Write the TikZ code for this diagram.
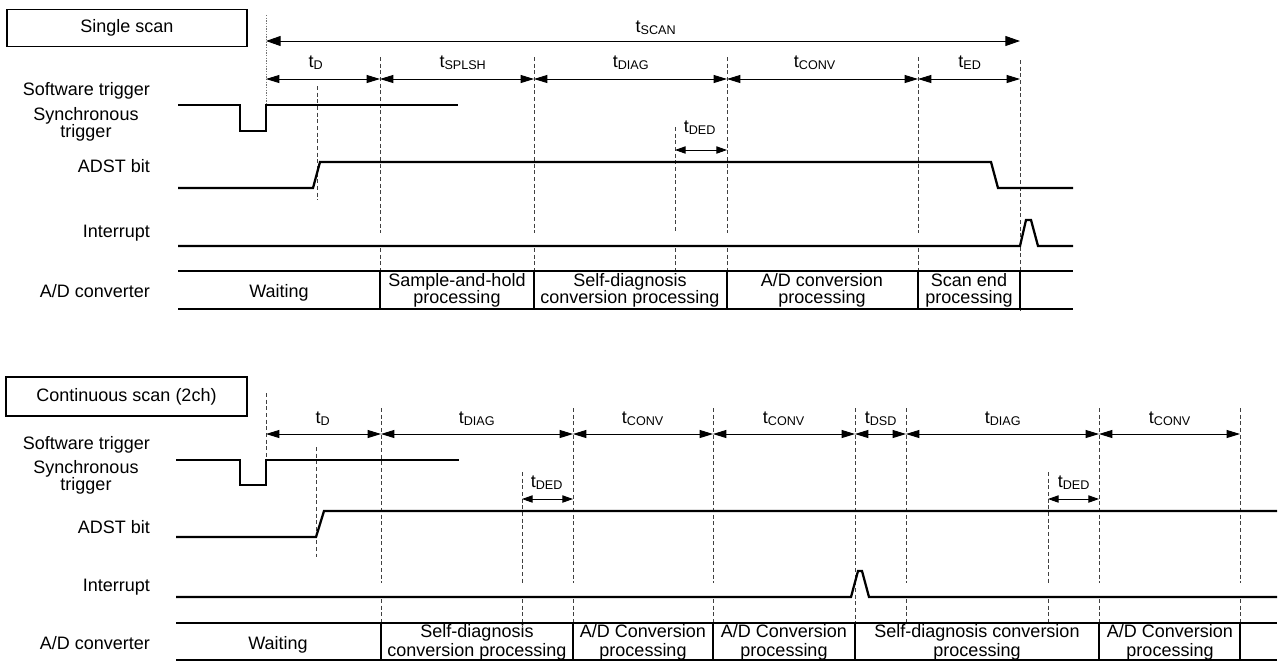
\documentclass[tikz,border=0pt]{standalone}
\usepackage{fontspec}
\setmainfont{Liberation Sans}
\usetikzlibrary{arrows.meta}
\begin{document}
\begin{tikzpicture}[x=0.75pt,y=-0.75pt,
  txt/.style={font=\fontsize{13.5}{13.5}\selectfont, inner sep=0pt, outer sep=0pt},
  titlebox/.style={draw, line width=0.8pt, txt, minimum width=180pt, minimum height=27.75pt},
  sig/.style={line width=1.7pt, line join=miter},
  rowline/.style={line width=1pt},
  guide/.style={line width=0.6pt, draw=black!75, dash pattern=on 3pt off 2pt},
  fineguide/.style={line width=0.6pt, draw=black!55, dash pattern=on 1pt off 1pt},
  dim/.style={line width=0.7pt, {Triangle[length=10pt,width=6pt]}-{Triangle[length=10pt,width=6pt]}},
  longdim/.style={line width=0.7pt, {Triangle[length=11pt,width=7.5pt]}-{Triangle[length=11pt,width=7.5pt]}},
  sdim/.style={line width=0.7pt, {Triangle[length=8pt,width=5.5pt]}-{Triangle[length=8pt,width=5.5pt]}},
]
\useasboundingbox (0,0) rectangle (1278,662);

% ================= Single scan =================
\node[titlebox] (ss) at (127,28) {Single scan};

% guides
\draw[fineguide] (266,15) -- (266,105);
\draw[guide] (317,86) -- (317,200);
\foreach \x in {380,534,727,918}{
  \draw[guide] (\x,57) -- (\x,233);
  \draw[guide] (\x,248) -- (\x,271);
}
\draw[guide] (675,127) -- (675,233);
\draw[guide] (675,248) -- (675,274);
\draw[guide] (1020,60) -- (1020,313);

% dimension coordinates
\coordinate (S0) at (266,41);
\coordinate (S1) at (1020,41);
\coordinate (A0) at (266,79);
\coordinate (A1) at (380,79);
\coordinate (A2) at (534,79);
\coordinate (A3) at (727,79);
\coordinate (A4) at (918,79);
\coordinate (A5) at (1020,79);
\coordinate (E0) at (675,150);
\coordinate (E1) at (727,150);

\draw[longdim] (S0) -- (S1);
\draw[dim] (A0) -- (A1);
\draw[dim] (A1) -- (A2);
\draw[dim] (A2) -- (A3);
\draw[dim] (A3) -- (A4);
\draw[dim] (A4) -- (A5);
\draw[sdim] (E0) -- (E1);

\node[txt, anchor=base] (lscan) at (656,32) {t\textsubscript{SCAN}};
\node[txt, anchor=base] (ltd1) at (316,67) {t\textsubscript{D}};
\node[txt, anchor=base] (lspl) at (463,67) {t\textsubscript{SPLSH}};
\node[txt, anchor=base] (ldiag1) at (631,67) {t\textsubscript{DIAG}};
\node[txt, anchor=base] (lconv1) at (815,67) {t\textsubscript{CONV}};
\node[txt, anchor=base] (led) at (970,67) {t\textsubscript{ED}};
\node[txt, anchor=base] (lded1) at (700,132) {t\textsubscript{DED}};

% left labels
\node[txt, anchor=base east] (sw1) at (150,95) {Software trigger};
\node[txt, anchor=base] (sy1) at (86,120) {Synchronous};
\node[txt, anchor=base] (sy1b) at (86,137) {trigger};
\node[txt, anchor=base east] (ad1) at (150,172) {ADST bit};
\node[txt, anchor=base east] (in1) at (150,237) {Interrupt};
\node[txt, anchor=base east] (cv1) at (150,297) {A/D converter};

% signals
\draw[sig] (178,105) -- (240,105) -- (240,131) -- (266,131) -- (266,105) -- (458,105);
\draw[sig] (178,188) -- (313,188) -- (320,162) -- (991,162) -- (998,188) -- (1073,188);
\draw[sig] (178,246) -- (1020,246) -- (1026,220) -- (1031,220) -- (1038,246) -- (1073,246);

% A/D row
\draw[rowline] (178,271) -- (1073,271);
\draw[rowline] (178,309) -- (1073,309);
\foreach \x in {380,534,727,918,1020}{
  \draw[rowline] (\x,271) -- (\x,309);
}
\node[txt, anchor=base] (w1) at (279,297) {Waiting};
\node[txt, anchor=base] (c1a) at (457,286) {Sample-and-hold};
\node[txt, anchor=base] (c1b) at (457,303) {processing};
\node[txt, anchor=base] (c2a) at (630,286) {Self-diagnosis};
\node[txt, anchor=base] (c2b) at (630,303) {conversion processing};
\node[txt, anchor=base] (c3a) at (822,286) {A/D conversion};
\node[txt, anchor=base] (c3b) at (822,303) {processing};
\node[txt, anchor=base] (c4a) at (969,286) {Scan end};
\node[txt, anchor=base] (c4b) at (969,303) {processing};

% ================= Continuous scan =================
\node[titlebox, minimum width=180.75pt, minimum height=29.25pt] (cs) at (126.5,396.5) {Continuous scan (2ch)};

% guides
\draw[guide] (266,393) -- (266,460);
\draw[guide] (316,447) -- (316,557);
\foreach \x in {381,573,713,906,1099,1240}{
  \draw[guide] (\x,408) -- (\x,583);
  \draw[guide] (\x,599) -- (\x,622);
}
\draw[guide] (855,408) -- (855,622);
\draw[guide] (522,472) -- (522,583);
\draw[guide] (522,599) -- (522,627);
\draw[guide] (1048,472) -- (1048,583);
\draw[guide] (1048,599) -- (1048,622);

\coordinate (B0) at (266,434);
\coordinate (B1) at (381,434);
\coordinate (B2) at (573,434);
\coordinate (B3) at (713,434);
\coordinate (B4) at (855,434);
\coordinate (B5) at (906,434);
\coordinate (B6) at (1099,434);
\coordinate (B7) at (1240,434);
\coordinate (D0) at (522,499);
\coordinate (D1) at (573,499);
\coordinate (D2) at (1048,499);
\coordinate (D3) at (1099,499);

\draw[dim] (B0) -- (B1);
\draw[dim] (B1) -- (B2);
\draw[dim] (B2) -- (B3);
\draw[dim] (B3) -- (B4);
\draw[dim] (B4) -- (B5);
\draw[dim] (B5) -- (B6);
\draw[dim] (B6) -- (B7);
\draw[sdim] (D0) -- (D1);
\draw[sdim] (D2) -- (D3);

\node[txt, anchor=base] (mtd) at (323,423) {t\textsubscript{D}};
\node[txt, anchor=base] (mdiag1) at (477,423) {t\textsubscript{DIAG}};
\node[txt, anchor=base] (mconv1) at (643,423) {t\textsubscript{CONV}};
\node[txt, anchor=base] (mconv2) at (784,423) {t\textsubscript{CONV}};
\node[txt, anchor=base] (mdsd) at (881,423) {t\textsubscript{DSD}};
\node[txt, anchor=base] (mdiag2) at (1003,423) {t\textsubscript{DIAG}};
\node[txt, anchor=base] (mconv3) at (1170,423) {t\textsubscript{CONV}};
\node[txt, anchor=base] (mded1) at (547,487) {t\textsubscript{DED}};
\node[txt, anchor=base] (mded2) at (1074,487) {t\textsubscript{DED}};

% left labels
\node[txt, anchor=base east] (sw2) at (150,449) {Software trigger};
\node[txt, anchor=base] (sy2) at (86,473) {Synchronous};
\node[txt, anchor=base] (sy2b) at (86,490) {trigger};
\node[txt, anchor=base east] (ad2) at (150,533) {ADST bit};
\node[txt, anchor=base east] (in2) at (150,591) {Interrupt};
\node[txt, anchor=base east] (cv2) at (150,649) {A/D converter};

% signals
\draw[sig] (176,460) -- (240,460) -- (240,485) -- (266,485) -- (266,460) -- (459,460);
\draw[sig] (176,537) -- (316,537) -- (324,511) -- (1277,511);
\draw[sig] (176,597) -- (851,597) -- (858,571) -- (862,571) -- (869,597) -- (1277,597);

% A/D row
\draw[rowline] (176,623) -- (1277,623);
\draw[rowline] (176,660) -- (1277,660);
\foreach \x in {381,573,713,855,1099,1240}{
  \draw[rowline] (\x,623) -- (\x,660);
}
\node[txt, anchor=base] (w2) at (278,649) {Waiting};
\node[txt, anchor=base] (d1a) at (477,637) {Self-diagnosis};
\node[txt, anchor=base] (d1b) at (477,656) {conversion processing};
\node[txt, anchor=base] (d2a) at (643,637) {A/D Conversion};
\node[txt, anchor=base] (d2b) at (643,656) {processing};
\node[txt, anchor=base] (d3a) at (784,637) {A/D Conversion};
\node[txt, anchor=base] (d3b) at (784,656) {processing};
\node[txt, anchor=base] (d4a) at (977,637) {Self-diagnosis conversion};
\node[txt, anchor=base] (d4b) at (977,656) {processing};
\node[txt, anchor=base] (d5a) at (1170,637) {A/D Conversion};
\node[txt, anchor=base] (d5b) at (1170,656) {processing};
\end{tikzpicture}
\end{document}
